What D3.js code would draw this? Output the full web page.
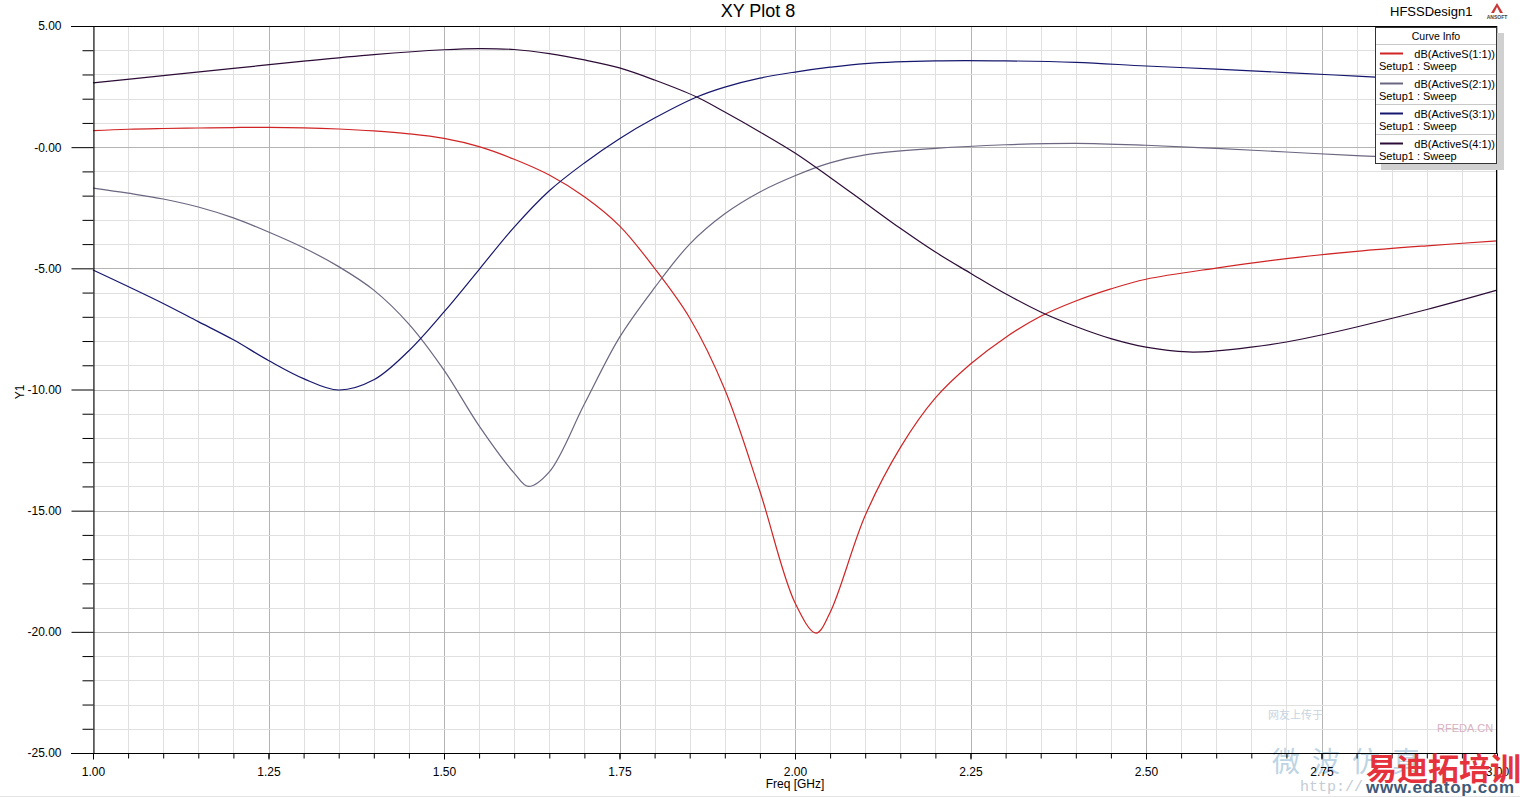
<!DOCTYPE html>
<html>
<head>
<meta charset="utf-8">
<script src="https://cdn.jsdelivr.net/npm/d3@7"></script>
<style>
  html, body { margin: 0; padding: 0; background: #ffffff; }
  svg { display: block; font-family: "Liberation Sans", Arial, sans-serif; }
</style>
</head>
<body>
<svg id="chart" width="1520" height="797"></svg>
<script>
// ---------------- DATA ----------------
const seriesNames = ["dB(ActiveS(1:1))", "dB(ActiveS(2:1))", "dB(ActiveS(3:1))", "dB(ActiveS(4:1))"];
const sweepLabel = "Setup1 : Sweep";

const s11Freq = [1.00,1.05,1.10,1.15,1.20,1.25,1.30,1.35,1.40,1.45,1.50,1.55,1.60,1.65,1.70,1.75,1.80,1.85,1.90,1.95,2.00,2.03,2.05,2.10,2.15,2.20,2.25,2.30,2.35,2.40,2.45,2.50,2.60,2.70,2.80,2.90,3.00];
const s11dB   = [0.68,0.74,0.77,0.79,0.81,0.82,0.80,0.75,0.67,0.55,0.36,0.02,-0.50,-1.15,-2.05,-3.25,-5.00,-7.05,-10.0,-14.2,-18.8,-20.05,-19.2,-15.2,-12.4,-10.35,-8.95,-7.85,-6.98,-6.35,-5.85,-5.45,-4.99,-4.60,-4.30,-4.07,-3.87];

const s21Freq = [1.00,1.05,1.10,1.15,1.20,1.25,1.30,1.35,1.40,1.45,1.50,1.55,1.60,1.62,1.65,1.70,1.75,1.80,1.85,1.90,1.95,2.00,2.05,2.10,2.20,2.30,2.40,2.50,2.60,2.70,2.80,2.90,3.00];
const s21dB   = [-1.69,-1.90,-2.14,-2.47,-2.92,-3.50,-4.15,-4.93,-5.90,-7.30,-9.20,-11.5,-13.45,-14.0,-13.4,-10.6,-7.85,-5.8,-4.0,-2.75,-1.85,-1.18,-0.65,-0.32,-0.05,0.10,0.16,0.08,-0.05,-0.20,-0.35,-0.47,-0.80];

const s31Freq = [1.00,1.05,1.10,1.15,1.20,1.25,1.30,1.35,1.40,1.45,1.50,1.55,1.60,1.65,1.70,1.75,1.80,1.86,1.90,1.95,2.00,2.05,2.10,2.20,2.30,2.40,2.50,2.60,2.70,2.80,2.90,3.00];
const s31dB   = [-5.07,-5.75,-6.45,-7.20,-7.95,-8.80,-9.55,-10.02,-9.60,-8.40,-6.80,-5.05,-3.30,-1.80,-0.65,0.35,1.20,2.07,2.48,2.85,3.10,3.30,3.45,3.56,3.56,3.50,3.35,3.22,3.08,2.93,2.78,2.60];

const s41Freq = [1.00,1.10,1.20,1.30,1.40,1.50,1.55,1.60,1.65,1.70,1.75,1.80,1.86,1.90,1.95,2.00,2.05,2.10,2.15,2.20,2.25,2.30,2.35,2.40,2.45,2.50,2.56,2.60,2.65,2.70,2.75,2.80,2.90,3.00];
const s41dB   = [2.65,2.95,3.25,3.55,3.82,4.02,4.07,4.03,3.86,3.60,3.27,2.77,2.07,1.45,0.63,-0.24,-1.25,-2.30,-3.35,-4.33,-5.20,-6.05,-6.80,-7.40,-7.90,-8.25,-8.45,-8.41,-8.25,-8.04,-7.75,-7.42,-6.70,-5.90];

const xTickValues = [1.00,1.25,1.50,1.75,2.00,2.25,2.50,2.75,3.00];
const xTickLabels = ["1.00","1.25","1.50","1.75","2.00","2.25","2.50","2.75","3.00"];
const yTickValues = [5,0,-5,-10,-15,-20,-25];
const yTickLabels = ["5.00","-0.00","-5.00","-10.00","-15.00","-20.00","-25.00"];

const titleText = "XY Plot 8";
const designText = "HFSSDesign1";
const xAxisTitle = "Freq [GHz]";
const yAxisTitle = "Y1";

// ---------------- STYLE ----------------
const colors = ["#d02424", "#6c6680", "#16166e", "#2c0c36"];
const L = 93, R = 1497, T = 26, B = 753;

const svg = d3.select("#chart");
const x = d3.scaleLinear().domain([1, 3]).range([L, R]);
const y = d3.scaleLinear().domain([-25, 5]).range([B, T]);

// grid
const gGrid = svg.append("g");
const minorX = d3.range(0, 41).map(i => 1 + i * 0.05);
const minorY = d3.range(0, 31).map(i => -25 + i);
gGrid.selectAll("line.mx").data(minorX).enter().append("line")
  .attr("x1", d => Math.round(x(d)) + 0.5).attr("x2", d => Math.round(x(d)) + 0.5)
  .attr("y1", T).attr("y2", B)
  .attr("stroke", d => (Math.abs(((d - 1) / 0.25) - Math.round((d - 1) / 0.25)) < 1e-6) ? "#b4b4b4" : "#e0e0e0")
  .attr("stroke-width", 1);
gGrid.selectAll("line.my").data(minorY).enter().append("line")
  .attr("y1", d => Math.round(y(d)) + 0.5).attr("y2", d => Math.round(y(d)) + 0.5)
  .attr("x1", L).attr("x2", R)
  .attr("stroke", d => (d % 5 === 0) ? "#b4b4b4" : "#e0e0e0")
  .attr("stroke-width", 1);

// watermark (behind curves)
const wm = svg.append("g");
wm.append("text").attr("x", 1268).attr("y", 719).attr("font-size", 11).attr("fill", "#c8d4e0")
  .attr("font-family", "Noto Sans CJK SC").text("网友上传于");
wm.append("text").attr("x", 1437).attr("y", 732).attr("font-size", 11).attr("fill", "#d8b0c0").text("RFEDA.CN");
wm.append("text").attr("x", 1272).attr("y", 772).attr("font-size", 28).attr("fill", "#bcd4e4")
  .attr("font-family", "Noto Sans CJK SC").attr("letter-spacing", 12).text("微波仿真");
wm.append("text").attr("x", 1300).attr("y", 791).attr("font-size", 15).attr("fill", "#c4ccd4")
  .attr("font-family", "Liberation Mono").text("http://");

// curves
const series = [
  {f: s11Freq, v: s11dB}, {f: s21Freq, v: s21dB}, {f: s31Freq, v: s31dB}, {f: s41Freq, v: s41dB}
];
const line = d3.line().x(d => x(d[0])).y(d => y(d[1])).curve(d3.curveCatmullRom.alpha(0.5));
const gLines = svg.append("g");
series.forEach((s, i) => {
  const pts = s.f.map((f, k) => [f, s.v[k]]);
  gLines.append("path").datum(pts).attr("d", line)
    .attr("fill", "none").attr("stroke", colors[i]).attr("stroke-width", 1.2);
});

// frame
svg.append("line").attr("x1", 71).attr("x2", R).attr("y1", T + 0.5).attr("y2", T + 0.5).attr("stroke", "#000");
svg.append("line").attr("x1", R - 0.5).attr("x2", R - 0.5).attr("y1", T).attr("y2", B).attr("stroke", "#000");

// y axis
const yAxis = d3.axisLeft(y).tickValues(yTickValues)
  .tickFormat((d, i) => yTickLabels[i]).tickSize(22).tickPadding(10);
const gy = svg.append("g").attr("transform", `translate(${L + 0.5},0)`).call(yAxis);
gy.select(".domain").attr("stroke", "#000");
gy.selectAll(".tick line").attr("stroke", "#000");
gy.selectAll(".tick text").attr("font-size", 12).attr("fill", "#000")
  .attr("font-family", "Liberation Sans, Arial, sans-serif");
const yMinor = d3.axisLeft(y).tickValues(minorY.filter(d => d % 5 !== 0)).tickSize(11).tickFormat("");
const gym = svg.append("g").attr("transform", `translate(${L + 0.5},0)`).call(yMinor);
gym.select(".domain").remove();
gym.selectAll(".tick line").attr("stroke", "#000");

// x axis
const xAxis = d3.axisBottom(x).tickValues(xTickValues)
  .tickFormat((d, i) => xTickLabels[i]).tickSize(6).tickPadding(8);
const gx = svg.append("g").attr("transform", `translate(0,${B + 0.5})`).call(xAxis);
gx.select(".domain").remove();
gx.selectAll(".tick line").attr("stroke", "#000");
gx.selectAll(".tick text").attr("font-size", 12).attr("fill", "#000")
  .attr("font-family", "Liberation Sans, Arial, sans-serif");
const xMinor = d3.axisBottom(x).tickValues(minorX).tickSize(5).tickFormat("");
const gxm = svg.append("g").attr("transform", `translate(0,${B + 0.5})`).call(xMinor);
gxm.select(".domain").remove();
gxm.selectAll(".tick line").attr("stroke", "#000");
svg.append("line").attr("x1", 71).attr("x2", R).attr("y1", B + 0.5).attr("y2", B + 0.5).attr("stroke", "#000");

// titles
svg.append("text").attr("x", 758).attr("y", 17).attr("text-anchor", "middle")
  .attr("font-size", 18).attr("fill", "#000").text(titleText);
svg.append("text").attr("x", 1390).attr("y", 16).attr("font-size", 13).attr("fill", "#000").text(designText);
svg.append("text").attr("x", 795).attr("y", 788).attr("text-anchor", "middle")
  .attr("font-size", 12).attr("fill", "#000").text(xAxisTitle);
svg.append("text").attr("transform", "translate(24,392) rotate(-90)").attr("text-anchor", "middle")
  .attr("font-size", 12).attr("fill", "#000").text(yAxisTitle);

// ANSOFT logo
const logo = svg.append("g");
logo.append("path").attr("d", "M1497,3 L1503,13 L1491,13 Z").attr("fill", "#c83a3a");
logo.append("path").attr("d", "M1497,7 L1500,13 L1494,13 Z").attr("fill", "#ffffff");
logo.append("text").attr("x", 1497).attr("y", 19).attr("text-anchor", "middle")
  .attr("font-size", 5).attr("font-weight", "bold").attr("fill", "#444").text("ANSOFT");

// legend
const lg = svg.append("g");
lg.append("rect").attr("x", 1381).attr("y", 33).attr("width", 123).attr("height", 137).attr("fill", "#d0d0d0");
lg.append("rect").attr("x", 1375.5).attr("y", 27.5).attr("width", 121).attr("height", 136)
  .attr("fill", "#ffffff").attr("stroke", "#333").attr("stroke-width", 1);
lg.append("text").attr("x", 1436).attr("y", 40).attr("text-anchor", "middle")
  .attr("font-size", 10.5).attr("fill", "#000").text("Curve Info");
seriesNames.forEach((name, i) => {
  const top = 44 + i * 30;
  lg.append("line").attr("x1", 1376).attr("x2", 1496).attr("y1", top + 0.5).attr("y2", top + 0.5)
    .attr("stroke", "#c8c8c8");
  lg.append("line").attr("x1", 1380).attr("x2", 1403).attr("y1", top + 9.5).attr("y2", top + 9.5)
    .attr("stroke", colors[i]).attr("stroke-width", 2);
  lg.append("text").attr("x", 1495).attr("y", top + 14).attr("text-anchor", "end")
    .attr("font-size", 11).attr("fill", "#000").text(name);
  lg.append("text").attr("x", 1379).attr("y", top + 26)
    .attr("font-size", 11).attr("fill", "#000").text(sweepLabel);
});

// watermark brand (front)
svg.append("text").attr("x", 1366).attr("y", 780).attr("font-size", 31).attr("font-weight", "bold")
  .attr("fill", "#e6323c").attr("font-family", "Noto Sans CJK SC").text("易迪拓培训");
svg.append("text").attr("x", 1366).attr("y", 793).attr("font-size", 17).attr("font-weight", "bold")
  .attr("fill", "#3e5a78").attr("textLength", 148).text("www.edatop.com");

// bottom faint line
svg.append("line").attr("x1", 0).attr("x2", 1520).attr("y1", 796.5).attr("y2", 796.5).attr("stroke", "#e4e4e4");
</script>
</body>
</html>
